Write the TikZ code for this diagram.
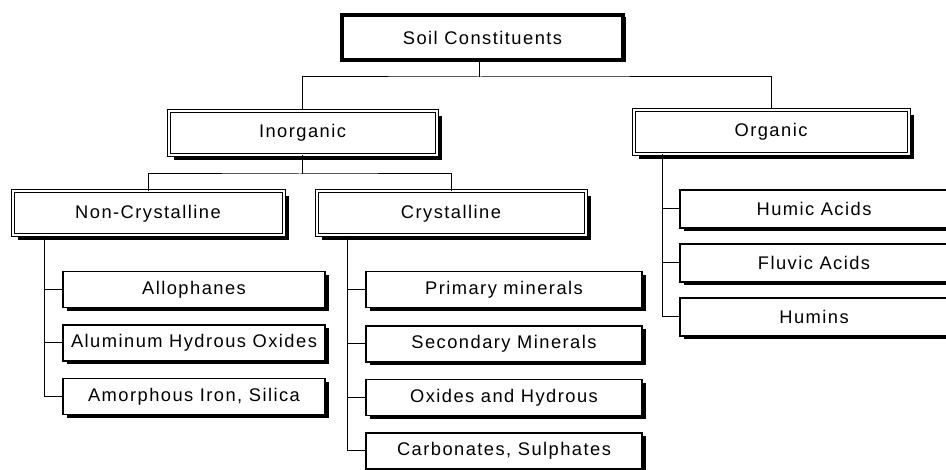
\documentclass[tikz,border=0pt]{standalone}
\usepackage{fontspec}
\setmainfont{Liberation Sans}[LetterSpace=8]
\usetikzlibrary{shadows}
\begin{document}
\begin{tikzpicture}[x=1pt,y=-1pt,
  every node/.style={font=\fontsize{18.3}{21}\selectfont, text=black},
  topbox/.style={draw=black, line width=3.5pt, fill=white, minimum width=281pt, minimum height=45pt,
    drop shadow={shadow xshift=2.5pt, shadow yshift=-2.5pt, fill=black, opacity=1}},
  dblbox/.style={draw=black, double=white, double distance=2pt, line width=1pt, fill=white,
    minimum height=44pt,
    drop shadow={shadow xshift=5pt, shadow yshift=-5pt, fill=black, opacity=1}},
  leafbox/.style={draw=black, line width=1.4pt, fill=white, minimum height=36pt,
    drop shadow={shadow xshift=3.5pt, shadow yshift=-3.5pt, fill=black, opacity=1}},
  conn/.style={draw=black, line width=1pt}]
\useasboundingbox (0,0) rectangle (946,470);
% top level
\node[topbox] (soil) at (482.5,37.5) {Soil Constituents};
% second level
\node[dblbox, minimum width=268pt] (inorg) at (302.5,133) {Inorganic};
\node[dblbox, minimum width=275pt] (org) at (771,132) {Organic};
% third level
\node[dblbox, minimum width=271pt] (nc) at (148,213.5) {Non-Crystalline};
\node[dblbox, minimum width=269pt] (cr) at (451,213.5) {Crystalline};
% non-crystalline leaves
\node[leafbox, minimum width=262pt] (allo) at (194,289.5) {Allophanes};
\node[leafbox, minimum width=262pt] (alum) at (194,343) {Aluminum Hydrous Oxides};
\node[leafbox, minimum width=262pt] (amor) at (194,396.5) {Amorphous Iron, Silica};
% crystalline leaves
\node[leafbox, minimum width=276pt] (prim) at (504,289.5) {Primary minerals};
\node[leafbox, minimum width=276pt] (sec) at (504,344) {Secondary Minerals};
\node[leafbox, minimum width=276pt] (oxi) at (504,397.5) {Oxides and Hydrous};
\node[leafbox, minimum width=276pt] (carb) at (504,451) {Carbonates, Sulphates};
% organic leaves
\node[leafbox, minimum width=268pt, minimum height=38pt] (hum) at (814,209) {Humic Acids};
\node[leafbox, minimum width=268pt, minimum height=38pt] (flu) at (814,263) {Fluvic Acids};
\node[leafbox, minimum width=268pt, minimum height=38pt] (hmn) at (814,317) {Humins};
% connectors
\coordinate (bus1) at (479,77);
\coordinate (bus2) at (300,174);
\draw[conn] (soil.south -| bus1) -- (bus1);
\draw[conn] (inorg.north) |- (bus1) -| (org.north);
\draw[conn] (inorg.south) -- (inorg.south |- bus2);
\draw[conn] (nc.north) |- (bus2) -| (cr.north);
\draw[conn] ([xshift=32.5pt]nc.south west) |- (allo.west);
\draw[conn] ([xshift=32.5pt]nc.south west) |- (alum.west);
\draw[conn] ([xshift=32.5pt]nc.south west) |- (amor.west);
\draw[conn] ([xshift=31.5pt]cr.south west) |- (prim.west);
\draw[conn] ([xshift=31.5pt]cr.south west) |- (sec.west);
\draw[conn] ([xshift=31.5pt]cr.south west) |- (oxi.west);
\draw[conn] ([xshift=31.5pt]cr.south west) |- (carb.west);
\draw[conn] ([xshift=29.5pt]org.south west) |- (hum.west);
\draw[conn] ([xshift=29.5pt]org.south west) |- (flu.west);
\draw[conn] ([xshift=29.5pt]org.south west) |- (hmn.west);
\end{tikzpicture}
\end{document}
